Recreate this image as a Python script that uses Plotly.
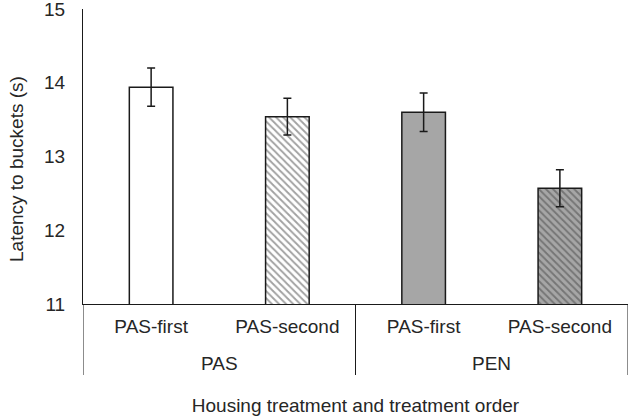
import plotly.graph_objects as go

housing = ["PAS", "PAS", "PEN", "PEN"]
order = ["PAS-first", "PAS-second", "PAS-first", "PAS-second"]
latency = [13.94, 13.54, 13.60, 12.57]
se = [0.26, 0.25, 0.26, 0.25]
fills = ["#ffffff", "#ffffff", "#a6a6a6", "#a6a6a6"]
hatch = ["", "\\", "", "\\"]

FONT = "Liberation Sans, Arial, sans-serif"
TXT = "#262626"
LINE = "#1a1a1a"
FS = 19

pos = list(range(len(order)))

# housing groups: centre and boundaries in axis units
groups = []
for i, h in enumerate(housing):
    if not groups or groups[-1][0] != h:
        groups.append([h, i, i])
    else:
        groups[-1][2] = i
bounds = [g[1] - 0.5 for g in groups] + [groups[-1][2] + 0.5]

fig = go.Figure()
fig.add_trace(go.Bar(
    x=pos,
    y=latency,
    width=0.32,
    marker=dict(
        color=fills,
        line=dict(color=LINE, width=1.5),
        pattern=dict(shape=hatch, size=5, solidity=0.38, fgcolor="#2a2a2a", fillmode="overlay"),
    ),
    error_y=dict(type="data", array=se, visible=True, color=LINE, thickness=1.5, width=4),
    showlegend=False,
))

annotations = [dict(
    text=g[0], showarrow=False, xref="x", yref="paper",
    x=(g[1] + g[2]) / 2, y=0, xanchor="center", yanchor="middle", yshift=-59,
    font=dict(size=FS, color=TXT),
) for g in groups]
annotations.append(dict(
    text="Latency to buckets (s)", textangle=-90, showarrow=False,
    xref="paper", yref="paper", x=0, y=0.5, xanchor="center", yanchor="middle",
    xshift=-67, yshift=-12.5, font=dict(size=FS, color=TXT),
))

shapes = [dict(
    type="line", xref="x", yref="paper", ysizemode="pixel", yanchor=0,
    x0=b, x1=b, y0=0, y1=-71, line=dict(color=LINE, width=1),
) for b in bounds]

fig.update_layout(
    width=631, height=420,
    margin=dict(l=83, r=3, t=9, b=116),
    plot_bgcolor="white", paper_bgcolor="white",
    font=dict(family=FONT, size=FS, color=TXT),
    xaxis=dict(
        range=[bounds[0], bounds[-1]], automargin=False,
        tickvals=pos, ticktext=order,
        showline=True, linecolor=LINE, linewidth=1,
        ticks="", showgrid=False, zeroline=False,
        ticklabelstandoff=5,
        tickfont=dict(size=FS, color=TXT),
        title=dict(text="Housing treatment and treatment order", font=dict(size=FS, color=TXT), standoff=62),
    ),
    yaxis=dict(
        range=[11, 15], tickvals=[11, 12, 13, 14, 15], automargin=False,
        showline=True, linecolor=LINE, linewidth=1,
        showgrid=False, zeroline=False, ticks="",
        ticklabelstandoff=13, ticklabeloverflow="allow",
        tickfont=dict(size=FS, color=TXT),
    ),
    annotations=annotations,
    shapes=shapes,
)

fig.write_html("out.html", config={"displayModeBar": False},
               post_script="document.body.style.margin='0';")
